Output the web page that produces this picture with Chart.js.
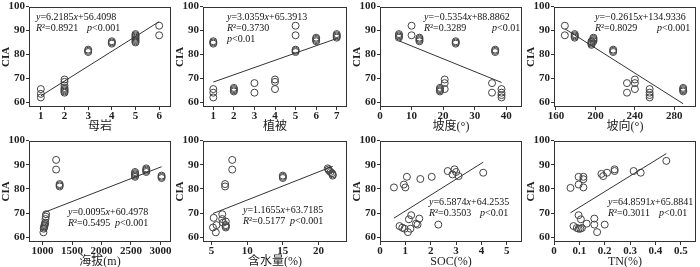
<!DOCTYPE html>
<html><head><meta charset="utf-8">
<script src="https://cdn.jsdelivr.net/npm/chart.js@4.4.0/dist/chart.umd.min.js"></script>
<style>
html,body{margin:0;padding:0;background:#fff;width:700px;height:267px;overflow:hidden}
.p{position:absolute}
</style></head><body>
<script>
// ---------- data ----------
const yTicks = [60, 70, 80, 90, 100];

const rockX = [1,1,1, 2,2,2,2,2,2,2,2, 3,3,3, 4,4,4, 5,5,5,5,5,5,5,5, 6,6];
const rockY = [65.5,63.5,62, 69.5,68.5,67,66,65.5,65,64.5,64, 82,81.5,81, 85.5,85,84.5, 88.5,88,87.5,87,86.5,86,85.5,85, 92,88];
const rockTicks = [1,2,3,4,5,6];

const vegX = [1,1,1,1,1,1, 2,2,2,2, 3,3, 4,4,4, 5,5,5,5,5, 6,6,6,6, 7,7,7,7];
const vegY = [85.5,85,84.5,65.5,64,62, 66,65.5,65,64.5, 68,64, 69.5,68.5,65.5, 92,88,82,81.5,81, 87,86.5,86,85.5, 88.5,88,87.5,87];
const vegTicks = [1,2,3,4,5,6,7];

const slopeX = [6,6,6,6, 10,10, 12.5,12.5,12.5,12.5, 19,19,19,19, 20.5,20.5,20.5, 24,24,24, 35.5,35.5, 36.5,36.5,36.5, 38.5,38.5,38.5,38.5];
const slopeY = [88.5,88,87.5,87, 92,88, 87,86.5,86,85.5, 66,65.5,65,64.5, 69.5,68,65.5, 85.5,85,84.5, 68,64, 82,81.5,81, 65.5,64,63,62];
const slopeTicks = [0,10,20,30,40];

const aspectX = [169,169, 179,179,179,179, 196,196,196,196, 198,198,198,198, 218,218,218, 232,232, 240,240,240, 255,255,255,255, 289,289,289,289];
const aspectY = [92,88, 88.5,88,87.5,87, 85.5,85,84.5,84, 87,86.5,86,85.5, 82,81.5,81, 68,64, 69.5,68,65.5, 65.5,64,63,62, 66,65.5,65,64.5];
const aspectTicks = [160,200,240,280];

const altX = [1015,1020,1025,1030,1035,1040,1045,1050,1055,1060, 1230,1230, 1290,1290,1290, 2570,2570,2570,2570,2570, 2760,2760,2760,2760, 3020,3020,3020];
const altY = [62,63.5,64,64.5,65,65.5,66,67.5,68.5,69.5, 92,88, 82,81.5,81, 87,86.5,86,85.5,85, 88.5,88,87.5,87, 85.5,85,84.5];
const altTicks = [1000,1500,2000,2500,3000];

const waterX = [5.2,5.3,5.6,5.7, 6.5,6.5,6.6, 7.0,7.0,7.0,7.0, 6.9,6.9, 7.9,7.9, 15,15,15, 21.3,21.4,21.5,21.7,21.9,22,22];
const waterY = [64,68,62,65, 69.5,67.5,66, 66.5,65,64.5,64, 82,81, 92,88, 85.5,85,84.5, 88.5,88,87.5,87,86.5,86,85.5];
const waterTicks = [5,10,15,20];

const socX = [0.55,0.94,1.0,1.06,1.59,2.04,2.67,2.86,2.94,3.0,3.1,4.07, 0.77,0.88,0.97,1.1,1.14,1.23,1.2,1.42,1.48,1.55,2.3];
const socY = [80.6,81.8,80.6,85,84.1,85,87.4,86,88.1,87,85.3,86.7, 64.6,63.9,63.5,62.1,67.4,69.1,63.5,65.6,65.2,67.7,65.2];
const socTicks = [0,1,2,3,4,5];

const tnX = [0.065,0.097,0.097,0.116,0.116,0.116,0.187,0.194,0.209,0.239,0.239,0.314,0.342,0.443, 0.077,0.09,0.097,0.104,0.097,0.106,0.11,0.129,0.159,0.159,0.17,0.2];
const tnY = [80.4,85,81.8,85,84,80.6,86.2,85.3,86.7,88.1,87.4,87.4,86.7,91.6, 64.6,63.8,63.5,63.5,69.1,67.4,63.8,65.6,67.7,65.2,62.1,65.2];
const tnTicks = [0,0.1,0.2,0.3,0.4,0.5];

const xTitles = ['母岩','植被','坡度(°)','坡向(°)','海拔(m)','含水量(%)','SOC(%)','TN(%)'];
const slopes = [6.2185, 3.0359, -0.5354, -0.2615, 0.0095, 1.1655, 6.5874, 64.8591];
const intercepts = [56.4098, 65.3913, 88.8862, 134.9336, 60.4978, 63.7185, 64.2535, 65.8841];
const eqTexts = ['y=6.2185x+56.4098','y=3.0359x+65.3913','y=\u22120.5354x+88.8862','y=\u22120.2615x+134.9336',
                 'y=0.0095x+60.4978','y=1.1655x+63.7185','y=6.5874x+64.2535','y=64.8591x+65.8841'];
const r2Texts = ['R\u00b2=0.8921','R\u00b2=0.3730','R\u00b2=0.3289','R\u00b2=0.8029','R\u00b2=0.5495','R\u00b2=0.5177','R\u00b2=0.3503','R\u00b2=0.3011'];
const pTexts = ['p<0.001','p<0.01','p<0.01','p<0.001','p<0.001','p<0.001','p<0.01','p<0.01'];

// ---------- layout (positions/styles only) ----------
const boxes = [
  {L:29,T:6,R:173,B:107},{L:203,T:6,R:349,B:107},{L:380,T:6,R:524,B:107},{L:554,T:6,R:698,B:107},
  {L:29,T:140,R:173,B:242},{L:203,T:140,R:349,B:242},{L:380,T:140,R:524,B:242},{L:554,T:140,R:698,B:242}
];
const xRanges = [[0.5,6.5],[0.5,7.5],[0,45],[158,302],[770,3180],[3.8,24],[0,5.6],[0,0.56]];
const notePos = [
  [[7,11],[7,22],[58,22]], [[24,11],[24,22],[24,33]], [[44,11],[44,22],[112,22]], [[41,11],[41,22],[103,22]],
  [[39,72],[39,83],[86,83]], [[40,70],[40,81],[87,81]], [[49,62],[49,73],[100,73]], [[54,62],[54,73],[105,73]]
];
const panelsX = [rockX, vegX, slopeX, aspectX, altX, waterX, socX, tnX];
const panelsY = [rockY, vegY, slopeY, aspectY, altY, waterY, socY, tnY];
const panelsTicks = [rockTicks, vegTicks, slopeTicks, aspectTicks, altTicks, waterTicks, socTicks, tnTicks];

const SERIF = '"Liberation Serif", "Times New Roman", serif';
const INK = '#222';

function drawRich(ctx, text, x, y) {
  ctx.textBaseline = 'middle';
  ctx.textAlign = 'left';
  let cx = x;
  const runs = [];
  for (const ch of text) {
    const it = /[yxRp]/.test(ch);
    if (runs.length && runs[runs.length - 1].it === it) runs[runs.length - 1].t += ch;
    else runs.push({t: ch, it: it});
  }
  for (const r of runs) {
    ctx.font = (r.it ? 'italic ' : '') + '10px ' + SERIF;
    ctx.fillText(r.t, cx, y);
    cx += ctx.measureText(r.t).width;
  }
}

const boxPlugin = {
  id: 'boxNotes',
  afterDatasetsDraw(chart, args, opts) {
    const ca = chart.chartArea, ctx = chart.ctx;
    ctx.save();
    ctx.strokeStyle = '#333';
    ctx.lineWidth = 1;
    ctx.strokeRect(Math.round(ca.left) + 0.5, Math.round(ca.top) + 0.5, Math.round(ca.right - ca.left) - 1, Math.round(ca.bottom - ca.top) - 1);
    ctx.fillStyle = '#111';
    const i = opts.idx;
    const pos = notePos[i];
    drawRich(ctx, eqTexts[i], ca.left + pos[0][0], ca.top + pos[0][1]);
    drawRich(ctx, r2Texts[i], ca.left + pos[1][0], ca.top + pos[1][1]);
    drawRich(ctx, pTexts[i], ca.left + pos[2][0], ca.top + pos[2][1]);
    ctx.restore();
  }
};

boxes.forEach((b, i) => {
  const div = document.createElement('div');
  div.className = 'p';
  const left = b.L - 29, top = b.T - 7;
  const w = b.R - b.L + 29 + 3, h = b.B - b.T + 7 + 27;
  div.style.left = left + 'px'; div.style.top = top + 'px';
  div.style.width = w + 'px'; div.style.height = h + 'px';
  const cv = document.createElement('canvas');
  cv.width = w; cv.height = h;
  div.appendChild(cv);
  document.body.appendChild(div);

  const xs = panelsX[i], ys = panelsY[i];
  const x0 = Math.min(...xs), x1 = Math.max(...xs);
  const pts = xs.map((x, k) => ({x: x, y: ys[k]}));
  const fit = [{x: x0, y: slopes[i] * x0 + intercepts[i]}, {x: x1, y: slopes[i] * x1 + intercepts[i]}];
  const xt = panelsTicks[i];

  new Chart(cv.getContext('2d'), {
    type: 'scatter',
    data: {datasets: [
      {type: 'line', data: fit, borderColor: '#333', borderWidth: 1, pointRadius: 0, fill: false, order: 1},
      {type: 'scatter', data: pts, pointStyle: 'circle', pointRadius: 3.5, borderColor: '#444',
       backgroundColor: 'rgba(0,0,0,0)', borderWidth: 1, order: 2}
    ]},
    options: {
      responsive: false, animation: false, events: [],
      layout: {padding: {top: 7, right: 3, left: 0, bottom: 0}},
      plugins: {legend: {display: false}, tooltip: {enabled: false}, boxNotes: {idx: i}},
      scales: {
        x: {
          type: 'linear', min: xRanges[i][0], max: xRanges[i][1],
          afterBuildTicks: s => { s.ticks = xt.map(v => ({value: v})); },
          afterFit: s => { s.height = 27; },
          border: {display: false},
          grid: {drawOnChartArea: false, drawTicks: true, tickLength: 3, color: '#333'},
          ticks: {font: {family: SERIF, size: 11, weight: 'bold'}, color: INK, padding: 0, maxRotation: 0, autoSkip: false,
                  callback: v => String(v)},
          title: {display: true, text: xTitles[i], color: INK, font: {family: SERIF + ', "Noto Sans CJK SC"', size: 12}, padding: {top: 1, bottom: 0}}
        },
        y: {
          type: 'linear', min: 58, max: 100,
          afterBuildTicks: s => { s.ticks = yTicks.map(v => ({value: v})); },
          afterFit: s => { s.width = 29; },
          border: {display: false},
          grid: {drawOnChartArea: false, drawTicks: true, tickLength: 3, color: '#333'},
          ticks: {font: {family: SERIF, size: 11, weight: 'bold'}, color: INK, padding: 1, callback: v => String(v)},
          title: {display: true, text: 'CIA', color: INK, font: {family: SERIF, size: 11, weight: 'bold'}, padding: {top: 0, bottom: 0}}
        }
      }
    },
    plugins: [boxPlugin]
  });
});
</script>
</body></html>
